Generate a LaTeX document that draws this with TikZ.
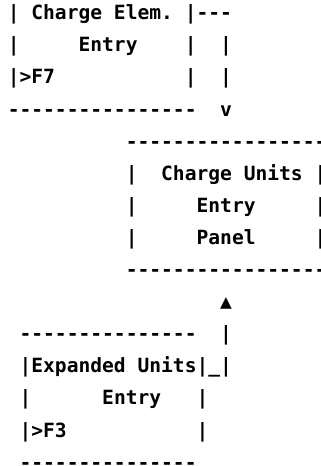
\documentclass[tikz,border=0pt]{standalone}
\usepackage{fontspec}
\usepackage{tikz}
\newfontfamily\artfont{DejaVu Sans Mono}[Ligatures=TeXOff]
\frenchspacing
\tikzset{
  artline/.style={anchor=base west, inner sep=0pt, outer sep=0pt,
    font=\artfont\bfseries\fontsize{19.6pt}{32.1pt}\selectfont}
}

\begin{document}
\begin{tikzpicture}[x=11.8pt, y=-32.1pt]
  \useasboundingbox[fill=white] (0pt,0pt) rectangle (321pt,-466pt);
  \begin{scope}[shift={(7.8pt,-19.7pt)}]
    % charge element box
    \node[artline] (elemtop)  at (0,0) {| Charge Elem. |---};
    \node[artline] (elemname) at (0,1) {|~~~~~Entry~~~~|~~|};
    \node[artline] (elemkey)  at (0,2) {|>F7~~~~~~~~~~~|~~|};
    \node[artline] (elembot)  at (0,3) {----------------~~v};
    % charge units panel
    \node[artline] (unittop)  at (10,4) {-----------------};
    \node[artline] (unitname) at (10,5) {|~~Charge Units~|};
    \node[artline] (unitmid)  at (10,6) {|~~~~~Entry~~~~~|};
    \node[artline] (unitpan)  at (10,7) {|~~~~~Panel~~~~~|};
    \node[artline] (unitbot)  at (10,8) {-----------------};
    % expanded units box
    \node[artline] (uparrow)  at (18,9) {▲};
    \node[artline] (exptop)   at (1,10) {---------------~~|};
    \node[artline] (expname)  at (1,11) {|Expanded Units|\_|};
    \node[artline] (expmid)   at (1,12) {|~~~~~~Entry~~~|};
    \node[artline] (expkey)   at (1,13) {|>F3~~~~~~~~~~~|};
    \node[artline] (expbot)   at (1,14) {---------------};
  \end{scope}
\end{tikzpicture}
\end{document}
